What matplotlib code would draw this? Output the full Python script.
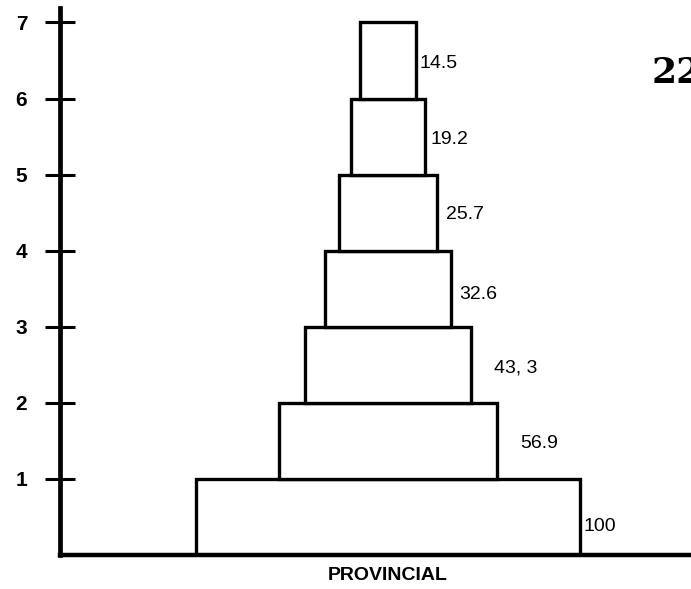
import matplotlib
matplotlib.use("Agg")
import matplotlib.pyplot as plt

# data, bottom level first
levels = [1, 2, 3, 4, 5, 6, 7]
widths = [100, 56.9, 43.3, 32.6, 25.7, 19.2, 14.5]
labels = ["100", "56.9", "43, 3", "32.6", "25.7", "19.2", "14.5"]
category = "PROVINCIAL"
page_no = "22"

# label nudges (data units), style only
label_dx = [1.0, 6.0, 6.0, 2.3, 2.3, 1.5, 1.0]
label_dy = [-0.13, -0.03, -0.04, -0.08, -0.03, -0.04, -0.04]

FONT = "Liberation Sans"

fig = plt.figure(figsize=(6.91, 5.89), dpi=100, facecolor="white")
ax = fig.add_axes([60 / 691, 34 / 589, 631 / 691, 547 / 589])

for lev, w, lab, dx, dy in zip(levels, widths, labels, label_dx, label_dy):
    ax.barh(lev - 0.5, w, left=-w / 2, height=1.0, facecolor="white",
            edgecolor="black", linewidth=2.4, zorder=2)
    ax.text(w / 2 + dx, lev - 0.5 + dy, lab, ha="left", va="center",
            fontsize=14, fontfamily=FONT, color="black")

ax.set_xlim(-85.4, 78.9)
ax.set_ylim(0, 7.19)

for side in ("top", "right"):
    ax.spines[side].set_visible(False)
ax.spines["left"].set_linewidth(3.4)
ax.spines["bottom"].set_linewidth(3.2)
ax.spines["left"].set_zorder(3)
ax.spines["bottom"].set_zorder(3)

ax.set_xticks([])
ax.set_yticks(levels)
ax.set_yticklabels([str(v) for v in levels])
ax.tick_params(axis="y", direction="inout", length=21, width=2.2, pad=13,
               labelsize=15)
plt.setp(ax.get_yticklabels(), fontfamily=FONT, fontweight="bold")

ax.text(0, -0.27, category, ha="center", va="center", fontsize=14,
        fontfamily=FONT, fontweight="bold", clip_on=False)

fig.text(652 / 691, 1 - 83 / 589, page_no, ha="left", va="baseline",
         fontsize=26, fontweight="bold", fontfamily="DejaVu Serif")

plt.savefig("out.png", dpi=100, facecolor="white")
